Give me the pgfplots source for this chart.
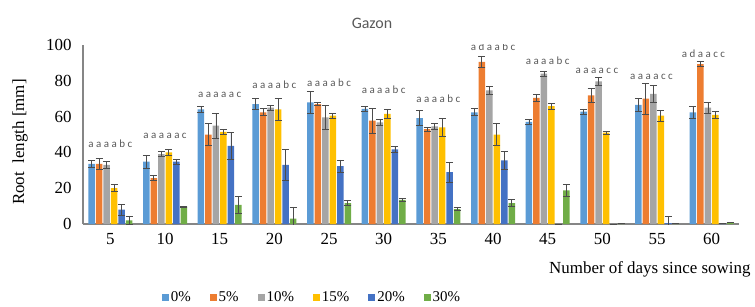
\documentclass[border=0pt]{standalone}
\usepackage{fontspec}
\setmainfont{Liberation Serif}
\newfontfamily\sansf{Carlito}
\usepackage{pgfplots}
\usepackage{pgfplotstable}
\pgfplotsset{compat=1.18}
\definecolor{c0}{HTML}{5B9BD5}
\definecolor{c5}{HTML}{ED7D31}
\definecolor{c10}{HTML}{A5A5A5}
\definecolor{c15}{HTML}{FFC000}
\definecolor{c20}{HTML}{4472C4}
\definecolor{c30}{HTML}{70AD47}
\definecolor{axgray}{HTML}{868686}
\definecolor{txtgray}{HTML}{595959}
\pgfplotstableread{
x  v0   e0  v5   e5  v10  e10 v15  e15 v20  e20 v30  e30
1  33.6 2   33.6 3   33   2   20   2   8    3   2    2.5
2  34.8 3.5 25.6 1.5 39   1.5 40   1.5 34.8 1.5 9.8  0.3
3  64   1.5 50   6   55   7   51.5 1.5 43.6 7.5 10.7 4.5
4  67   3   62.4 2   65   1.5 64   6   33   8.5 3    6.5
5  68   6   67   1   59.6 6.5 60.5 1.5 32.3 3.5 11.7 1.5
6  64.3 1.5 57.7 7   56.8 1.5 61.5 2.5 41.7 1.5 13.5 1
7  59.2 4   53   1   54.5 1.5 54   5   29   5.5 8.3  0.8
8  62.4 2   90.6 3   74.6 2   50   6   35.5 5   11.7 2
9  57   1.5 70.5 2   84   1.5 65.8 1.5 0    0   18.8 3.5
10 62.8 1.5 71.8 4   79.7 2   51   1   0    0   0.3  0
11 66.5 3.5 70   8.5 72.7 5   60.5 3   0.5  3.5 0.3  0
12 62.4 3.5 89.3 1.5 65   3   61   2   0.5  0   0.8  0
}\datatable
\begin{document}
\begin{tikzpicture}[x=1bp,y=1bp]
\useasboundingbox (0,0) rectangle (755,306);
\begin{axis}[
  at={(83bp,82bp)}, anchor=south west,
  scale only axis, width=656bp, height=179bp,
  xmin=0.5, xmax=12.5, ymin=0, ymax=100,
  ybar=1bp, bar width=6.5bp,
  axis x line=bottom, axis y line=left,
  axis line style={-, draw=axgray, line width=1.3bp},
  xtick={1,...,12}, xticklabels={5,10,15,20,25,30,35,40,45,50,55,60},
  ytick={0,20,40,60,80,100},
  major tick length=0pt,
  tick label style={font=\fontsize{17}{17}\selectfont, text=black},
  /pgf/number format/assume math mode=true,
  xticklabel style={yshift=-6bp},
  yticklabel style={xshift=-8bp},
  legend columns=6,
  legend style={draw=none, fill=none, font=\fontsize{15}{15}\selectfont,
    at={(axis description cs:0.349,-0.408)}, anchor=center,
    /tikz/every even column/.append style={column sep=17bp}},
  legend image code/.code={\fill[#1] (0bp,-3.5bp) rectangle (7bp,3.5bp);},
  error bars/error bar style={draw=black!70, line width=0.8bp},
  error bars/error mark options={rotate=90, mark size=3.5bp, draw=black!70, line width=0.8bp},
]
\addplot[fill=c0, draw=none, error bars/.cd, y dir=both, y explicit] table[x=x, y=v0, y error=e0]{\datatable};
\addplot[fill=c5, draw=none, error bars/.cd, y dir=both, y explicit] table[x=x, y=v5, y error=e5]{\datatable};
\addplot[fill=c10, draw=none, error bars/.cd, y dir=both, y explicit] table[x=x, y=v10, y error=e10]{\datatable};
\addplot[fill=c15, draw=none, error bars/.cd, y dir=both, y explicit] table[x=x, y=v15, y error=e15]{\datatable};
\addplot[fill=c20, draw=none, error bars/.cd, y dir=both, y explicit] table[x=x, y=v20, y error=e20]{\datatable};
\addplot[fill=c30, draw=none, error bars/.cd, y dir=both, y explicit] table[x=x, y=v30, y error=e30]{\datatable};
\legend{0\%,5\%,10\%,15\%,20\%,30\%}
\begin{scope}[every node/.style={font=\sansf\fontsize{11}{11}\selectfont, text=txtgray, anchor=base}]
\node at (axis cs:1,42.7) {a a a a b c};
\node at (axis cs:2,48) {a a a a a c};
\node at (axis cs:3,70.5) {a a a a a c};
\node at (axis cs:4,75.5) {a a a a b c};
\node at (axis cs:5,77) {a a a a b c};
\node at (axis cs:6,72.7) {a a a a b c};
\node at (axis cs:7,68) {a a a a b c};
\node at (axis cs:8,97) {a d a a b c};
\node at (axis cs:9,89.3) {a a a a b c};
\node at (axis cs:9.9,84) {a a a a c c};
\node at (axis cs:10.9,81) {a a a a c c};
\node at (axis cs:11.85,93) {a d a a c c};
\end{scope}
\end{axis}
\node[font=\fontsize{17}{17}\selectfont, rotate=90] at (20,164) {Root\ \ length [mm]};
\node[font=\fontsize{17}{17}\selectfont, anchor=east] at (754,37) {Number of days since sowing};
\node[font=\sansf\fontsize{16}{16}\selectfont, text=txtgray] at (372,283) {Gazon};
\end{tikzpicture}
\end{document}
